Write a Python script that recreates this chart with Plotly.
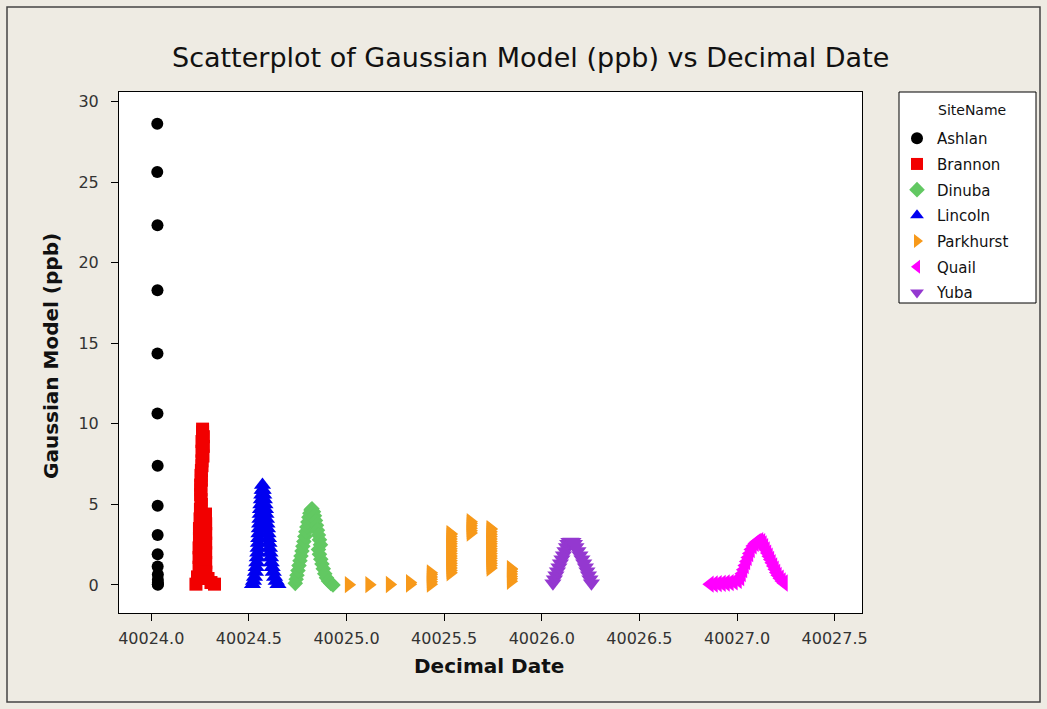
import plotly.graph_objects as go

# ---------------- data ----------------
site_names = ["Ashlan", "Brannon", "Dinuba", "Lincoln", "Parkhurst", "Quail", "Yuba"]

ashlan_x = [40024.031, 40024.031, 40024.032, 40024.032, 40024.032, 40024.032, 40024.033, 40024.033,
            40024.033, 40024.033, 40024.033, 40024.034, 40024.034, 40024.034, 40024.034, 40024.034]
ashlan_y = [28.62, 25.63, 22.32, 18.29, 14.36, 10.64, 7.40, 4.92,
            3.10, 1.90, 1.15, 0.65, 0.33, 0.14, 0.05, 0.01]

brannon_x = [40024.229, 40024.237, 40024.245, 40024.245, 40024.245, 40024.247, 40024.247, 40024.250,
             40024.252, 40024.255, 40024.255, 40024.257, 40024.257, 40024.260, 40024.260, 40024.260,
             40024.263, 40024.263, 40024.267, 40024.267, 40024.265, 40024.260, 40024.255, 40024.253,
             40024.253, 40024.257, 40024.278, 40024.279, 40024.279, 40024.279, 40024.279, 40024.279,
             40024.280, 40024.291, 40024.306, 40024.324]
brannon_y = [0.05, 0.5, 1.1, 1.7, 2.3, 2.9, 3.5, 4.1,
             4.7, 5.3, 5.9, 6.5, 7.1, 7.7, 8.3, 8.9,
             9.5, 9.67, 9.2, 8.6, 8.0, 7.4, 6.8, 6.2,
             5.6, 5.0, 4.4, 3.8, 3.2, 2.6, 2.0, 1.4,
             0.8, 0.4, 0.15, 0.05]

dinuba_x = [40024.7377, 40024.7423, 40024.7464, 40024.7515, 40024.7567, 40024.7618, 40024.7669, 40024.7720,
            40024.7766, 40024.7818, 40024.7869, 40024.7920, 40024.7971, 40024.8022, 40024.8074, 40024.8125,
            40024.8181, 40024.8232,
            40024.8309, 40024.8360, 40024.8411, 40024.8463, 40024.8514, 40024.8565, 40024.8616, 40024.8667,
            40024.8565, 40024.8616, 40024.8683, 40024.8744, 40024.8811, 40024.8888, 40024.8975, 40024.9077,
            40024.9195, 40024.9308]
dinuba_y = [0.1, 0.35, 0.6, 0.9, 1.2, 1.5, 1.8, 2.1,
            2.4, 2.7, 3.0, 3.3, 3.6, 3.9, 4.2, 4.45,
            4.65, 4.73,
            4.55, 4.3, 4.0, 3.7, 3.4, 3.1, 2.8, 2.5,
            2.2, 1.9, 1.6, 1.3, 1.0, 0.7, 0.45, 0.25,
            0.1, 0.0]

lincoln_x = [40024.5186, 40024.5237, 40024.5288, 40024.5339, 40024.5375, 40024.5406, 40024.5431, 40024.5457,
             40024.5472, 40024.5488, 40024.5503, 40024.5518, 40024.5534, 40024.5549, 40024.5565, 40024.5580,
             40024.5595, 40024.5616, 40024.5641, 40024.5662, 40024.5682, 40024.5698,
             40024.5734, 40024.5764, 40024.5795, 40024.5826, 40024.5851, 40024.5877, 40024.5903, 40024.5928,
             40024.5954, 40024.5979, 40024.6005, 40024.6031, 40024.6056, 40024.6082, 40024.6112, 40024.6148,
             40024.6194, 40024.6251, 40024.6317, 40024.6399, 40024.6491]
lincoln_y = [0.05, 0.25, 0.5, 0.8, 1.1, 1.4, 1.7, 2.0,
             2.3, 2.6, 2.9, 3.2, 3.5, 3.8, 4.1, 4.4,
             4.7, 5.0, 5.3, 5.6, 5.9, 6.2,
             5.9, 5.6, 5.3, 5.0, 4.7, 4.4, 4.1, 3.8,
             3.5, 3.2, 2.9, 2.6, 2.3, 2.0, 1.7, 1.4,
             1.1, 0.8, 0.5, 0.25, 0.05]

parkhurst_x = ([40025.011, 40025.116, 40025.221, 40025.324, 40025.324]
               + [40025.431] * 6
               + [40025.532] * 18
               + [40025.635] * 6
               + [40025.737] * 18
               + [40025.841] * 7)
parkhurst_y = ([0.02, 0.02, 0.03, 0.05, 0.15]
               + [0.05, 0.2, 0.35, 0.5, 0.65, 0.75]
               + [0.75, 0.9, 1.05, 1.2, 1.35, 1.5, 1.65, 1.8, 1.95, 2.1, 2.25, 2.4, 2.55, 2.7, 2.85,
                  3.0, 3.15, 3.18]
               + [3.22, 3.37, 3.52, 3.67, 3.82, 3.93]
               + [1.05, 1.2, 1.35, 1.5, 1.65, 1.8, 1.95, 2.1, 2.25, 2.4, 2.55, 2.7, 2.85, 3.0, 3.15,
                  3.3, 3.45, 3.49]
               + [0.23, 0.38, 0.53, 0.68, 0.83, 0.98, 1.01])

quail_x = [40026.8611, 40026.8816, 40026.9021, 40026.9226, 40026.9431, 40026.9635, 40026.9840, 40027.0045,
           40027.0173, 40027.0250, 40027.0327, 40027.0404, 40027.0480, 40027.0557, 40027.0634, 40027.0711,
           40027.0813, 40027.0916, 40027.1018, 40027.1146,
           40027.1249, 40027.1325, 40027.1402, 40027.1479, 40027.1556, 40027.1633, 40027.1709, 40027.1786,
           40027.1863, 40027.1940, 40027.2017, 40027.2093, 40027.2196, 40027.2298, 40027.2401]
quail_y = [0.05, 0.06, 0.08, 0.1, 0.12, 0.15, 0.2, 0.28,
           0.45, 0.7, 0.95, 1.2, 1.45, 1.7, 1.95, 2.2,
           2.42, 2.58, 2.68, 2.75,
           2.68, 2.55, 2.38, 2.18, 1.98, 1.78, 1.58, 1.38,
           1.18, 0.98, 0.78, 0.6, 0.42, 0.25, 0.12]

yuba_x = [40026.0572, 40026.0649, 40026.0726, 40026.0803, 40026.0879, 40026.0956, 40026.1033, 40026.1110,
          40026.1187, 40026.1264, 40026.1330, 40026.1392, 40026.1494,
          40026.1597, 40026.1673, 40026.1750, 40026.1853, 40026.1955, 40026.2058, 40026.2150, 40026.2237,
          40026.2314, 40026.2391, 40026.2467, 40026.2544]
yuba_y = [0.1, 0.35, 0.6, 0.85, 1.1, 1.35, 1.6, 1.85,
          2.1, 2.35, 2.55, 2.68, 2.7,
          2.68, 2.55, 2.35, 2.1, 1.85, 1.6, 1.35, 1.1,
          0.85, 0.6, 0.35, 0.1]

x_tick_vals = [40024.0, 40024.5, 40025.0, 40025.5, 40026.0, 40026.5, 40027.0, 40027.5]
x_tick_text = ["40024.0", "40024.5", "40025.0", "40025.5", "40026.0", "40026.5", "40027.0", "40027.5"]
y_tick_vals = [0, 5, 10, 15, 20, 25, 30]

# ---------------- styles ----------------
colors = ["#000000", "#F20000", "#62C862", "#0000F0", "#F7991A", "#FF00FF", "#9438D0"]
symbols = ["circle", "square", "diamond", "triangle-up", "triangle-right", "triangle-left", "triangle-down"]
sizes = [12, 13, 12, 15, 15, 15, 15]

series_x = [ashlan_x, brannon_x, dinuba_x, lincoln_x, parkhurst_x, quail_x, yuba_x]
series_y = [ashlan_y, brannon_y, dinuba_y, lincoln_y, parkhurst_y, quail_y, yuba_y]

FONT = "DejaVu Sans"
BG = "#EEEBE3"

# figure geometry (pixels)
W, H = 1047, 709
L, R, T, B = 119, 185, 92, 96
PW, PH = W - L - R, H - T - B


def px_x(p):
    return (p - L) / PW


def px_y(p):
    return (H - B - p) / PH


fig = go.Figure()
for name, xs, ys, c, s, sz in zip(site_names, series_x, series_y, colors, symbols, sizes):
    fig.add_trace(go.Scatter(
        x=xs, y=ys, mode="markers", name=name, legendgroup=name,
        marker=dict(color=c, symbol=s, size=sz, line=dict(width=0)),
    ))

fig.update_layout(
    width=W, height=H,
    margin=dict(l=L, r=R, t=T, b=B, autoexpand=False),
    paper_bgcolor=BG,
    plot_bgcolor="#FFFFFF",
    font=dict(family=FONT, color="#222222"),
    showlegend=True,
    legend=dict(
        x=px_x(897), xanchor="left", y=px_y(122), yanchor="top",
        bgcolor="rgba(0,0,0,0)", borderwidth=0,
        font=dict(family=FONT, size=15, color="#111111"),
        tracegroupgap=3.2, itemsizing="constant",
    ),
    xaxis=dict(
        range=[40023.835, 40027.64], tickvals=x_tick_vals, ticktext=x_tick_text,
        showgrid=False, zeroline=False, showline=True, linecolor="#000000", linewidth=1, mirror=True,
        ticks="outside", ticklen=7, tickcolor="#000000", ticklabelstandoff=4,
        tickfont=dict(family=FONT, size=16, color="#333333"),
    ),
    yaxis=dict(
        range=[-1.74, 30.59], tickvals=y_tick_vals,
        showgrid=False, zeroline=False, showline=True, linecolor="#000000", linewidth=1, mirror=True,
        ticks="outside", ticklen=7, tickcolor="#000000", ticklabelstandoff=9,
        tickfont=dict(family=FONT, size=16, color="#333333"),
    ),
    annotations=[
        dict(text="Scatterplot of Gaussian Model (ppb) vs Decimal Date", xref="paper", yref="paper",
             x=px_x(530), y=px_y(58), xanchor="center", yanchor="middle", showarrow=False,
             font=dict(family=FONT, size=27, color="#111111")),
        dict(text="<b>Decimal Date</b>", xref="paper", yref="paper",
             x=px_x(489), y=px_y(666), xanchor="center", yanchor="middle", showarrow=False,
             font=dict(family=FONT, size=20, color="#111111")),
        dict(text="<b>Gaussian Model (ppb)</b>", xref="paper", yref="paper",
             x=px_x(51), y=px_y(356), xanchor="center", yanchor="middle", showarrow=False, textangle=-90,
             font=dict(family=FONT, size=20, color="#111111")),
        dict(text="SiteName", xref="paper", yref="paper",
             x=px_x(936), y=px_y(110), xanchor="left", yanchor="middle", showarrow=False,
             font=dict(family=FONT, size=14, color="#111111")),
    ],
    shapes=[
        dict(type="rect", xref="paper", yref="paper", x0=px_x(7), x1=px_x(1040), y0=px_y(702), y1=px_y(7),
             line=dict(color="#444444", width=1.5), fillcolor="rgba(0,0,0,0)", layer="below"),
        dict(type="rect", xref="paper", yref="paper", x0=px_x(899), x1=px_x(1036), y0=px_y(303), y1=px_y(92),
             line=dict(color="#000000", width=1), fillcolor="#FFFFFF", layer="below"),
    ],
)

fig.write_html(
    "out.html",
    config={"displayModeBar": False},
    post_script="document.body.style.margin='0';document.body.style.background='%s';" % BG,
)
